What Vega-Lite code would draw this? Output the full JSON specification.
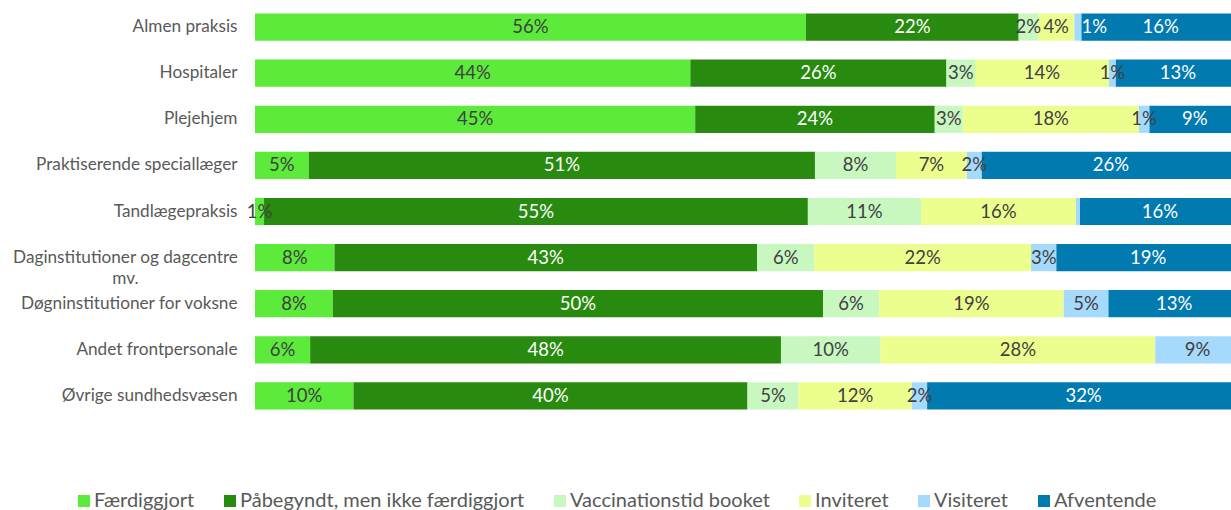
{
  "$schema": "https://vega.github.io/schema/vega-lite/v6.json",
  "width": 976,
  "height": 415,
  "autosize": {"type": "none"},
  "padding": {"left": 255, "top": 4, "right": 0, "bottom": 91},
  "background": "white",
  "config": {
    "view": {"stroke": null},
    "font": "Lato",
    "legend": {"labelFont": "Lato"},
    "axis": {"labelFont": "Lato"}
  },
  "data": {
    "values": [
      {"cat": "Almen praksis", "status": "Færdiggjort", "v": 55.94},
      {"cat": "Almen praksis", "status": "Påbegyndt, men ikke færdiggjort", "v": 21.59},
      {"cat": "Almen praksis", "status": "Vaccinationstid booket", "v": 1.96},
      {"cat": "Almen praksis", "status": "Inviteret", "v": 3.7},
      {"cat": "Almen praksis", "status": "Visiteret", "v": 0.72},
      {"cat": "Almen praksis", "status": "Afventende", "v": 16.09},
      {"cat": "Hospitaler", "status": "Færdiggjort", "v": 44.2},
      {"cat": "Hospitaler", "status": "Påbegyndt, men ikke færdiggjort", "v": 26.0},
      {"cat": "Hospitaler", "status": "Vaccinationstid booket", "v": 2.9},
      {"cat": "Hospitaler", "status": "Inviteret", "v": 13.6},
      {"cat": "Hospitaler", "status": "Visiteret", "v": 0.7},
      {"cat": "Hospitaler", "status": "Afventende", "v": 12.6},
      {"cat": "Plejehjem", "status": "Færdiggjort", "v": 44.69},
      {"cat": "Plejehjem", "status": "Påbegyndt, men ikke færdiggjort", "v": 24.32},
      {"cat": "Plejehjem", "status": "Vaccinationstid booket", "v": 2.85},
      {"cat": "Plejehjem", "status": "Inviteret", "v": 17.87},
      {"cat": "Plejehjem", "status": "Visiteret", "v": 1.08},
      {"cat": "Plejehjem", "status": "Afventende", "v": 9.19},
      {"cat": "Praktiserende speciallæger", "status": "Færdiggjort", "v": 5.46},
      {"cat": "Praktiserende speciallæger", "status": "Påbegyndt, men ikke færdiggjort", "v": 51.39},
      {"cat": "Praktiserende speciallæger", "status": "Vaccinationstid booket", "v": 8.23},
      {"cat": "Praktiserende speciallæger", "status": "Inviteret", "v": 7.19},
      {"cat": "Praktiserende speciallæger", "status": "Visiteret", "v": 1.52},
      {"cat": "Praktiserende speciallæger", "status": "Afventende", "v": 26.21},
      {"cat": "Tandlægepraksis", "status": "Færdiggjort", "v": 0.92},
      {"cat": "Tandlægepraksis", "status": "Påbegyndt, men ikke færdiggjort", "v": 55.21},
      {"cat": "Tandlægepraksis", "status": "Vaccinationstid booket", "v": 11.48},
      {"cat": "Tandlægepraksis", "status": "Inviteret", "v": 15.74},
      {"cat": "Tandlægepraksis", "status": "Visiteret", "v": 0.41},
      {"cat": "Tandlægepraksis", "status": "Afventende", "v": 16.24},
      {"cat": "Daginstitutioner og dagcentre mv.", "status": "Færdiggjort", "v": 8.07},
      {"cat": "Daginstitutioner og dagcentre mv.", "status": "Påbegyndt, men ikke færdiggjort", "v": 42.9},
      {"cat": "Daginstitutioner og dagcentre mv.", "status": "Vaccinationstid booket", "v": 5.82},
      {"cat": "Daginstitutioner og dagcentre mv.", "status": "Inviteret", "v": 22.0},
      {"cat": "Daginstitutioner og dagcentre mv.", "status": "Visiteret", "v": 2.57},
      {"cat": "Daginstitutioner og dagcentre mv.", "status": "Afventende", "v": 18.64},
      {"cat": "Døgninstitutioner for voksne", "status": "Færdiggjort", "v": 7.91},
      {"cat": "Døgninstitutioner for voksne", "status": "Påbegyndt, men ikke færdiggjort", "v": 49.76},
      {"cat": "Døgninstitutioner for voksne", "status": "Vaccinationstid booket", "v": 5.7},
      {"cat": "Døgninstitutioner for voksne", "status": "Inviteret", "v": 18.74},
      {"cat": "Døgninstitutioner for voksne", "status": "Visiteret", "v": 4.54},
      {"cat": "Døgninstitutioner for voksne", "status": "Afventende", "v": 13.35},
      {"cat": "Andet frontpersonale", "status": "Færdiggjort", "v": 5.6},
      {"cat": "Andet frontpersonale", "status": "Påbegyndt, men ikke færdiggjort", "v": 47.8},
      {"cat": "Andet frontpersonale", "status": "Vaccinationstid booket", "v": 10.1},
      {"cat": "Andet frontpersonale", "status": "Inviteret", "v": 27.9},
      {"cat": "Andet frontpersonale", "status": "Visiteret", "v": 8.6},
      {"cat": "Øvrige sundhedsvæsen", "status": "Færdiggjort", "v": 10.0},
      {"cat": "Øvrige sundhedsvæsen", "status": "Påbegyndt, men ikke færdiggjort", "v": 40.0},
      {"cat": "Øvrige sundhedsvæsen", "status": "Vaccinationstid booket", "v": 5.18},
      {"cat": "Øvrige sundhedsvæsen", "status": "Inviteret", "v": 11.5},
      {"cat": "Øvrige sundhedsvæsen", "status": "Visiteret", "v": 1.56},
      {"cat": "Øvrige sundhedsvæsen", "status": "Afventende", "v": 31.76}
    ]
  },
  "transform": [
    {"calculate": "indexof(['Færdiggjort','Påbegyndt, men ikke færdiggjort','Vaccinationstid booket','Inviteret','Visiteret','Afventende'], datum.status)", "as": "o"},
    {"stack": "v", "groupby": ["cat"], "sort": [{"field": "o", "order": "ascending"}], "as": ["v0", "v1"]},
    {"calculate": "(datum.v0 + datum.v1) / 2", "as": "mid"},
    {"calculate": "format(datum.v, '.0f') + '%'", "as": "lbl"},
    {"calculate": "datum.cat == 'Almen praksis' && datum.status == 'Visiteret'", "as": "outside"}
  ],
  "encoding": {
    "y": {
      "field": "cat",
      "type": "nominal",
      "sort": ["Almen praksis", "Hospitaler", "Plejehjem", "Praktiserende speciallæger", "Tandlægepraksis", "Daginstitutioner og dagcentre mv.", "Døgninstitutioner for voksne", "Andet frontpersonale", "Øvrige sundhedsvæsen"],
      "scale": {"paddingInner": 0.41, "paddingOuter": 0.205},
      "axis": {
        "title": null,
        "domain": false,
        "ticks": false,
        "labelPadding": {"condition": {"test": "datum.value == 'Daginstitutioner og dagcentre mv.'", "value": 130}, "value": 18},
        "labelAlign": {"condition": {"test": "datum.value == 'Daginstitutioner og dagcentre mv.'", "value": "center"}, "value": "right"},
        "labelFontSize": 17.2,
        "labelColor": "#595959",
        "labelLimit": 400,
        "labelLineHeight": 21,
        "labelExpr": "datum.label == 'Daginstitutioner og dagcentre mv.' ? ['Daginstitutioner og dagcentre', 'mv.'] : datum.label"
      }
    }
  },
  "layer": [
    {
      "mark": {"type": "bar", "clip": true},
      "encoding": {
        "x": {"field": "v0", "type": "quantitative", "scale": {"domain": [0, 99.09], "nice": false, "zero": true}, "axis": null},
        "x2": {"field": "v1"},
        "color": {
          "field": "status",
          "type": "nominal",
          "scale": {
            "domain": ["Færdiggjort", "Påbegyndt, men ikke færdiggjort", "Vaccinationstid booket", "Inviteret", "Visiteret", "Afventende"],
            "range": ["#5CEB3B", "#288A0F", "#C8F7C0", "#ECFE8E", "#A6DAFC", "#007AAF"]
          },
          "legend": {
            "title": null,
            "orient": "none",
            "direction": "horizontal",
            "columns": 6,
            "legendX": -181,
            "legendY": 487,
            "padding": 0,
            "symbolType": "square",
            "symbolSize": 144,
            "symbolStrokeWidth": 0,
            "symbolOpacity": 1,
            "labelOffset": 0,
            "columnPadding": 25,
            "labelFontSize": 20,
            "labelColor": "#595959",
            "labelLimit": 500
          }
        }
      }
    },
    {
      "transform": [{"filter": "datum.v >= 0.5 && !datum.outside"}],
      "mark": {"type": "text", "fontSize": 18.5, "baseline": "middle", "align": "center"},
      "encoding": {
        "x": {"field": "mid", "type": "quantitative"},
        "text": {"field": "lbl"},
        "color": {
          "condition": {"test": "datum.status === 'Påbegyndt, men ikke færdiggjort' || datum.status === 'Afventende'", "value": "#FFFFFF"},
          "value": "#404040"
        }
      }
    },
    {
      "transform": [{"filter": "datum.outside"}],
      "mark": {"type": "text", "fontSize": 18.5, "baseline": "middle", "align": "left", "color": "#FFFFFF"},
      "encoding": {
        "x": {"field": "v1", "type": "quantitative"},
        "text": {"field": "lbl"}
      }
    }
  ]
}
